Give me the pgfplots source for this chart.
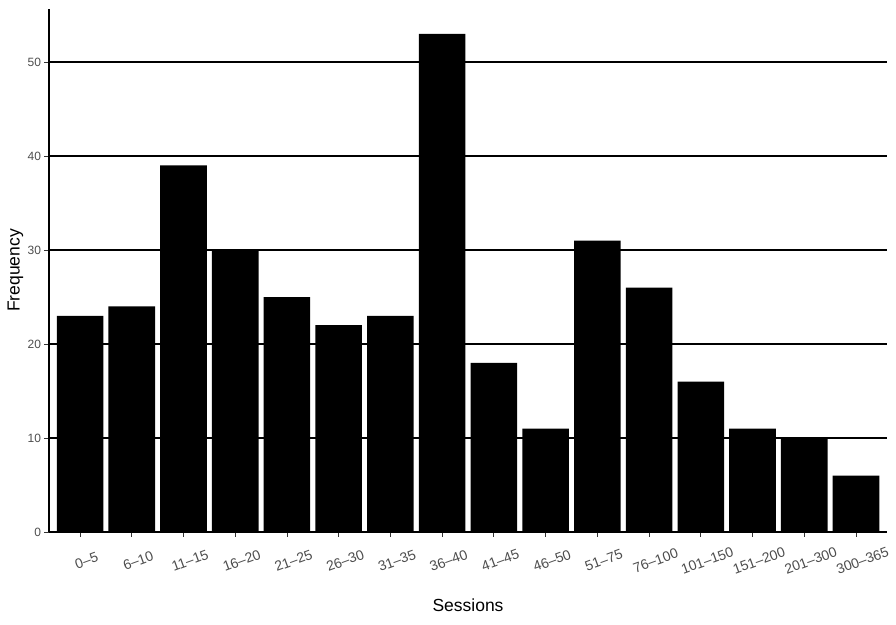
\documentclass[border=0pt]{standalone}
\usepackage{pgfplots}
\pgfplotsset{compat=1.18}
\usepackage{fontspec}
\setmainfont{Liberation Sans}
\definecolor{tickgray}{HTML}{4D4D4D}
\definecolor{tickmark}{HTML}{333333}
\begin{document}
\begin{tikzpicture}[x=1pt,y=1pt]
\path[use as bounding box] (0,0) rectangle (896,624);
\begin{axis}[
  at={(49pt,92pt)}, anchor=south west,
  scale only axis, width=838pt, height=523pt,
  ymin=0, ymax=55.65, xmin=0.4, xmax=16.6,
  ybar, bar width=0.9,
  axis x line*=bottom, axis y line*=left,
  axis line style={black, line width=1.3pt, -},
  ytick={0,10,20,30,40,50},
  xtick={1,...,16},
  xticklabels={0--5,6--10,11--15,16--20,21--25,26--30,31--35,36--40,41--45,46--50,51--75,76--100,101--150,151--200,201--300,300--365},
  x tick label style={yshift=-24pt, xshift=6.5pt, rotate=20, anchor=center, font=\fontsize{14}{16}\selectfont, text=tickgray},
  y tick label style={font=\fontsize{12}{14}\selectfont, text=tickgray},
  /pgf/number format/assume math mode=true,
  tick style={tickmark, line width=0.9pt},
  tick align=outside, major tick length=4.5pt,
  ymajorgrids, grid style={black, line width=1.2pt},
  xlabel={Sessions}, ylabel={Frequency},
  label style={font=\fontsize{17.5}{20}\selectfont},
  xlabel style={at={(axis description cs:0.5,-0.1396)}, anchor=center},
  ylabel style={at={(axis description cs:-0.04,0.5)}, anchor=center},
]
\addplot[fill=black, draw=none] coordinates {
(1,23) (2,24) (3,39) (4,30) (5,25) (6,22) (7,23) (8,53)
(9,18) (10,11) (11,31) (12,26) (13,16) (14,11) (15,10) (16,6)};
\end{axis}
\end{tikzpicture}
\end{document}
